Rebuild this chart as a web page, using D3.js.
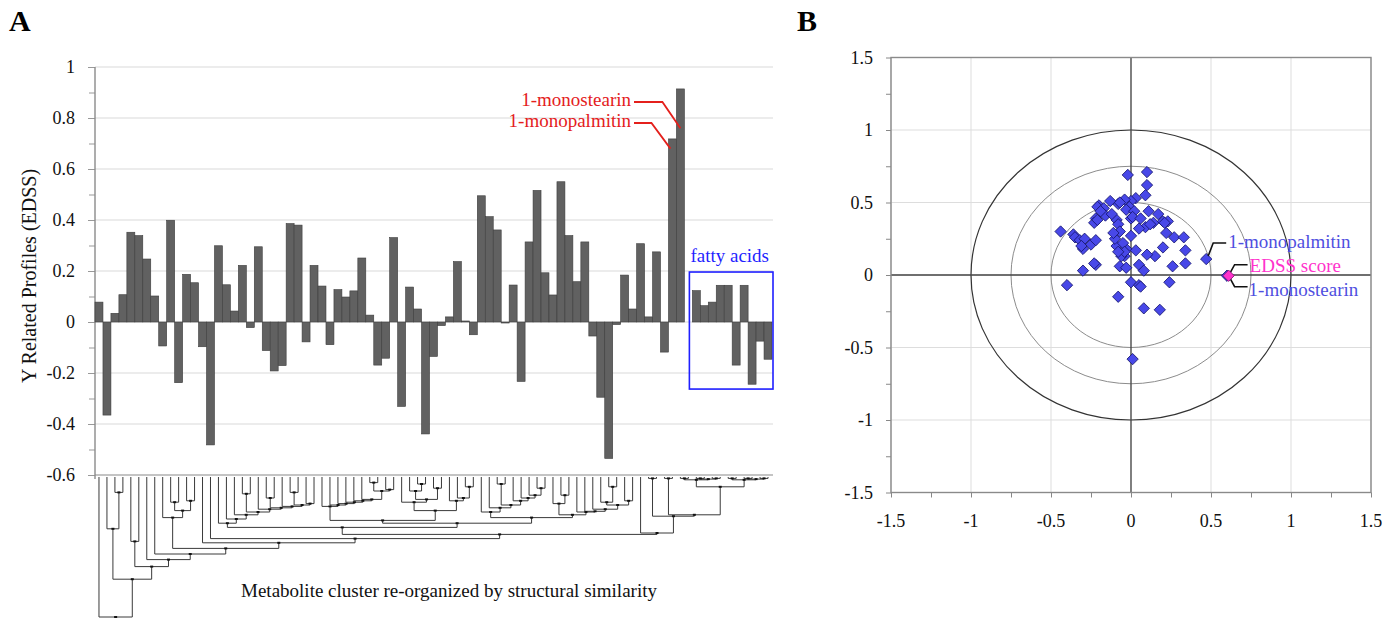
<!DOCTYPE html>
<html>
<head>
<meta charset="utf-8">
<script src="https://cdnjs.cloudflare.com/ajax/libs/d3/7.8.5/d3.min.js"></script>
<style>
  body { margin: 0; background: #fff; }
  text { font-family: "Liberation Serif", "Times New Roman", serif; }
</style>
</head>
<body>
<div id="chart"></div>
<script>
// ---- panel A data: Y related profile per metabolite (in cluster order)
var profile = [
  0.078, -0.365, 0.034, 0.107, 0.352, 0.339, 0.247, 0.102, -0.094, 0.399,
  -0.238, 0.187, 0.154, -0.097, -0.482, 0.299, 0.146, 0.043, 0.222, -0.022,
  0.295, -0.112, -0.192, -0.171, 0.386, 0.380, -0.078, 0.222, 0.141, -0.089,
  0.127, 0.098, 0.122, 0.251, 0.027, -0.169, -0.142, 0.331, -0.331, 0.137,
  0.051, -0.439, -0.135, -0.014, 0.020, 0.237, 0.004, -0.050, 0.495, 0.413,
  0.361, -0.004, 0.145, -0.233, 0.314, 0.516, 0.193, 0.106, 0.550, 0.339,
  0.158, 0.314, -0.055, -0.295, -0.535, -0.010, 0.184, 0.051, 0.307, 0.020,
  0.275, -0.118, 0.718, 0.914, 0.000, 0.123, 0.064, 0.078, 0.144, 0.144,
  -0.169, 0.144, -0.244, -0.075, -0.146
];
var yTicksA = [-0.6, -0.4, -0.2, 0, 0.2, 0.4, 0.6, 0.8, 1];
var fattyAcids = [74, 84];          // bar range boxed in blue
var barLabels = ["1-monostearin", "1-monopalmitin"];
var barLabelIdx = [73, 72];

// dendrogram: node = [height, left, right], leaf = metabolite index
var branchW1 = [0.33, 15, [0.30, 16, [0.27, 17, [0.25, [0.12, 18, 19], [0.23, 20, [0.22, [0.15, 21, 22], [0.21, 23, [0.20, [0.11, 24, 25], [0.19, 26, 27]]]]]]]]];
var branchR1 = [0.21, 28, [0.20, 29, [0.19, 30, [0.18, 31, [0.17, 32, [0.16, 33, [0.10, [0.04, 34, 35], [0.09, 36, 37]]]]]]]];
var branchR2 = [0.24, [0.18, 38, [0.16, [0.10, 39, [0.05, 40, 41]], [0.08, 42, 43]]], [0.17, 44, [0.15, 45, [0.07, 46, 47]]]];
var branchS1 = [0.25, 48, [0.22, 49, [0.20, [0.05, 50, 51], [0.17, 52, [0.15, 53, [0.13, 54, [0.08, 55, 56]]]]]]];
var branchS2 = [0.27, [0.19, 57, [0.13, 58, 59]], [0.25, 60, [0.245, 61, [0.23, 62, [0.20, [0.18, 63, [0.07, 64, 65]], [0.17, 66, 67]]]]]];
var branchT1 = [0.02, [0.01, 73, 74], [0.015, [0.01, 75, 76], [0.01, 77, 78]]];
var branchT2 = [0.02, [0.01, 79, 80], [0.015, [0.01, 81, 82], [0.01, 83, 84]]];
var branchP = [0.40, 68, [0.28, [0.01, 69, 70], [0.27, [0.01, 71, 72], [0.07, branchT1, branchT2]]]];
var branchW = [0.36, branchW1, [0.33, [0.31, branchR1, branchR2], [0.29, branchS1, branchS2]]];
var branchLeft = [0.29, 8, [0.24, [0.18, 9, 10], [0.17, 11, 12]]];
var clusterTree = [1.0, 0,
  [0.73,
    [0.37, 1, [0.11, 2, 3]],
    [0.64, [0.46, 4, 5],
      [0.59, 6,
        [0.55, 7,
          [0.51, branchLeft,
            [0.47, 13,
              [0.44, 14,
                [0.41, branchW, branchP]]]]]]]]];

// ---- panel B data: loadings
var loadX = [-0.02, 0.10, 0.10, 0.09, 0.03, 0.00, -0.04, -0.08, -0.07, -0.13,
  -0.20, -0.21, -0.17, -0.01, -0.03, 0.02, -0.16, -0.22, -0.23, -0.21,
  -0.09, -0.08, 0.00, 0.01, 0.06, 0.11, 0.17, 0.14, 0.09, 0.20,
  0.23, 0.21, 0.22, 0.27, 0.33, 0.34, 0.34, 0.26, 0.20, 0.15,
  0.10, 0.05, 0.08, 0.03, 0.00, -0.03, -0.04, -0.07, -0.03, -0.06,
  -0.09, -0.10, -0.07, -0.05, -0.04, -0.08, -0.44, -0.36, -0.35, -0.32,
  -0.29, -0.25, -0.22, -0.30, -0.31, -0.22, -0.23, -0.30, -0.40, 0.00,
  0.05, 0.06, 0.24, -0.08, 0.08, 0.18, 0.01, 0.47, -0.12, -0.19,
  0.05, -0.11, 0.12, 0.60];
var loadY = [0.69, 0.71, 0.62, 0.55, 0.53, 0.51, 0.52, 0.49, 0.50, 0.51,
  0.48, 0.47, 0.46, 0.47, 0.45, 0.44, 0.41, 0.39, 0.36, 0.38,
  0.38, 0.35, 0.39, 0.40, 0.39, 0.44, 0.42, 0.36, 0.33, 0.37,
  0.37, 0.36, 0.29, 0.26, 0.26, 0.17, 0.08, 0.06, 0.19, 0.13,
  0.14, 0.07, 0.03, 0.17, 0.27, 0.18, 0.13, 0.06, 0.05, 0.13,
  0.20, 0.25, 0.30, 0.22, 0.16, 0.16, 0.30, 0.28, 0.26, 0.24,
  0.25, 0.21, 0.24, 0.18, 0.20, 0.07, 0.08, 0.03, -0.07, -0.05,
  -0.07, -0.08, -0.05, -0.15, -0.23, -0.24, -0.58, 0.11, 0.42, 0.44,
  0.32, 0.29, 0.35, -0.005];
var edssScore = [0.61, -0.005];
var axisTicksB = [-1.5, -1, -0.5, 0, 0.5, 1, 1.5];
var circleRadii = [1, 0.75, 0.5];

var serif = '"Liberation Serif", "Times New Roman", serif';
var fmt = function(d) { return String(+d.toFixed(2)); };

var svg = d3.select("#chart")
    .append("svg")
        .attr("width", 1395)
        .attr("height", 620);

// ===================== panel A =====================
var x = d3.scaleBand()
    .domain(d3.range(profile.length))
    .range([95, 772])
    .padding(0);
var y = d3.scaleLinear()
    .domain([-0.6, 1])
    .range([475, 67]);

svg.selectAll(".gridA")
    .data(yTicksA)
    .enter()
    .append("line")
    .attr("class", "gridA")
    .attr("x1", 95).attr("x2", 773)
    .attr("y1", d => y(d)).attr("y2", d => y(d))
    .attr("stroke", d => d === -0.6 ? "#8a8a8a" : "#dadada")
    .attr("stroke-width", 1.2);

var minor = svg.append("g")
    .attr("transform", "translate(95,0)")
    .call(d3.axisLeft(y).tickValues(d3.range(-6, 11).map(d => d / 10)).tickSize(6).tickFormat(""));
minor.select(".domain").remove();
minor.selectAll("line").attr("stroke", "#999");

var axA = svg.append("g")
    .attr("transform", "translate(95,0)")
    .call(d3.axisLeft(y).tickValues(yTicksA).tickSize(7).tickPadding(13).tickFormat(fmt));
axA.select(".domain").remove();
axA.selectAll("line").attr("stroke", "#999");
axA.selectAll("text")
    .style("font-family", serif)
    .style("font-size", "18px")
    .attr("fill", "#111");

svg.append("line")
    .attr("x1", 95).attr("x2", 95)
    .attr("y1", 67).attr("y2", 479)
    .attr("stroke", "#8a8a8a")
    .attr("stroke-width", 1.4);

svg.selectAll(".bar")
    .data(profile)
    .enter()
    .append("rect")
    .attr("class", "bar")
    .attr("x", (d, i) => x(i))
    .attr("y", d => Math.min(y(d), y(0)))
    .attr("width", x.bandwidth())
    .attr("height", d => Math.abs(y(d) - y(0)))
    .attr("fill", "#616161")
    .attr("stroke", "#3d3d3d")
    .attr("stroke-width", 0.6);

svg.append("text")
    .attr("transform", "translate(36,276) rotate(-90)")
    .attr("text-anchor", "middle")
    .style("font-size", "20px")
    .attr("fill", "#111")
    .text("Y Related Profiles (EDSS)");

// red callouts
var calloutY = [102, 123];
var calloutEndV = [0.76, 0.68];
barLabels.forEach(function(lab, k) {
    var bx = x(barLabelIdx[k]) + x.bandwidth() / 2 - (k === 1 ? 2 : 0);
    svg.append("text")
        .attr("x", 631).attr("y", calloutY[k] + 4)
        .attr("text-anchor", "end")
        .style("font-size", "19px")
        .attr("fill", "#e4201c")
        .text(lab);
    svg.append("path")
        .attr("d", "M634," + calloutY[k] + "H" + (bx - 18 + k * -1) + "L" + bx + "," + y(calloutEndV[k]))
        .attr("fill", "none")
        .attr("stroke", "#e4201c")
        .attr("stroke-width", 1.8);
});

// fatty acids box
svg.append("rect")
    .attr("x", x(fattyAcids[0]) + 5)
    .attr("y", y(0.196))
    .attr("width", x(fattyAcids[1]) + x.bandwidth() + 1 - x(fattyAcids[0]) - 5)
    .attr("height", y(-0.263) - y(0.196))
    .attr("fill", "none")
    .attr("stroke", "#1f1fff")
    .attr("stroke-width", 1.6);
svg.append("text")
    .attr("x", x(fattyAcids[0]) + 6).attr("y", y(0.196) - 10)
    .style("font-size", "19px")
    .attr("fill", "#1f1fff")
    .text("fatty acids");

// dendrogram
var h = d3.scaleLinear().domain([0, 1]).range([477, 617]);
var root = d3.hierarchy(clusterTree, d => Array.isArray(d) ? d.slice(1) : null);
root.eachAfter(function(n) {
    if (n.children) {
        n.px = (n.children[0].px + n.children[1].px) / 2;
        n.py = h(n.data[0]);
    } else {
        n.px = x(n.data) + x.bandwidth() / 2;
        n.py = h(0);
    }
});
svg.append("g").selectAll("path")
    .data(root.descendants().filter(n => n.parent))
    .enter()
    .append("path")
    .attr("d", n => "M" + n.px + "," + n.py + "V" + n.parent.py + "H" + n.parent.px)
    .attr("fill", "none")
    .attr("stroke", "#3a3a3a")
    .attr("stroke-width", 1);
svg.append("g").selectAll("rect")
    .data(root.descendants().filter(n => n.children))
    .enter()
    .append("rect")
    .attr("x", n => n.px - 1.5)
    .attr("y", n => n.py - 1)
    .attr("width", 3).attr("height", 2)
    .attr("fill", "#111");

svg.append("text")
    .attr("x", 449).attr("y", 597)
    .attr("text-anchor", "middle")
    .style("font-size", "19px")
    .attr("fill", "#111")
    .text("Metabolite cluster re-organized by structural similarity");

// ===================== panel B =====================
var sx = d3.scaleLinear().domain([-1.5, 1.5]).range([891, 1371]);
var sy = d3.scaleLinear().domain([-1.5, 1.5]).range([492.5, 57.5]);

svg.selectAll(".gvx")
    .data(axisTicksB)
    .enter()
    .append("line")
    .attr("class", "gvx")
    .attr("x1", d => sx(d)).attr("x2", d => sx(d))
    .attr("y1", sy(1.5)).attr("y2", sy(-1.5))
    .attr("stroke", "#dddddd");
svg.selectAll(".gvy")
    .data(axisTicksB)
    .enter()
    .append("line")
    .attr("class", "gvy")
    .attr("x1", sx(-1.5)).attr("x2", sx(1.5))
    .attr("y1", d => sy(d)).attr("y2", d => sy(d))
    .attr("stroke", "#dddddd");

svg.selectAll(".ring")
    .data(circleRadii)
    .enter()
    .append("ellipse")
    .attr("class", "ring")
    .attr("cx", sx(0)).attr("cy", sy(0))
    .attr("rx", d => sx(d) - sx(0))
    .attr("ry", d => sy(0) - sy(d))
    .attr("fill", "none")
    .attr("stroke", d => d === 1 ? "#333" : "#8c8c8c")
    .attr("stroke-width", d => d === 1 ? 1.2 : 1);

svg.append("line")
    .attr("x1", sx(0)).attr("x2", sx(0)).attr("y1", sy(1.5)).attr("y2", sy(-1.5))
    .attr("stroke", "#444").attr("stroke-width", 1.3);
svg.append("line")
    .attr("x1", sx(-1.5)).attr("x2", sx(1.5)).attr("y1", sy(0)).attr("y2", sy(0))
    .attr("stroke", "#444").attr("stroke-width", 1.3);

svg.append("rect")
    .attr("x", sx(-1.5)).attr("y", sy(1.5))
    .attr("width", sx(1.5) - sx(-1.5)).attr("height", sy(-1.5) - sy(1.5))
    .attr("fill", "none")
    .attr("stroke", "#8a8a8a")
    .attr("stroke-width", 1.4);

var quarter = d3.range(-6, 7).map(d => d / 4);
var axBy = svg.append("g")
    .attr("transform", "translate(" + sx(-1.5) + ",0)")
    .call(d3.axisLeft(sy).tickValues(quarter).tickSize(5).tickFormat(""));
axBy.select(".domain").remove();
axBy.selectAll("line").attr("stroke", "#888");
var axBx = svg.append("g")
    .attr("transform", "translate(0," + sy(-1.5) + ")")
    .call(d3.axisBottom(sx).tickValues(quarter).tickSize(5).tickFormat(""));
axBx.select(".domain").remove();
axBx.selectAll("line").attr("stroke", "#888");

svg.selectAll(".lbBy")
    .data(axisTicksB)
    .enter()
    .append("text")
    .attr("class", "lbBy")
    .attr("x", 873).attr("y", d => sy(d))
    .attr("dy", "0.35em")
    .attr("text-anchor", "end")
    .style("font-size", "18px")
    .attr("fill", "#111")
    .text(fmt);
svg.selectAll(".lbBx")
    .data(axisTicksB)
    .enter()
    .append("text")
    .attr("class", "lbBx")
    .attr("x", d => sx(d)).attr("y", 527)
    .attr("text-anchor", "middle")
    .style("font-size", "18px")
    .attr("fill", "#111")
    .text(fmt);

var diamond = d3.symbol().type(d3.symbolSquare).size(64);
svg.append("g").selectAll("path")
    .data(loadX)
    .enter()
    .append("path")
    .attr("d", diamond)
    .attr("transform", (d, i) => "translate(" + sx(d) + "," + sy(loadY[i]) + ") rotate(45)")
    .attr("fill", "#4848e8")
    .attr("stroke", "#15156e")
    .attr("stroke-width", 0.8);

// leader lines
var ex = sx(edssScore[0]), ey = sy(edssScore[1]);
var px = sx(0.47), py = sy(0.11);
svg.append("path")
    .attr("d", "M" + (px + 2) + "," + (py - 3) + "L" + (px + 7) + "," + (py - 16) + "H" + (px + 20))
    .attr("fill", "none").attr("stroke", "#111").attr("stroke-width", 1.6);
svg.append("path")
    .attr("d", "M" + ex + "," + ey + "L" + (ex + 6) + "," + (ey - 11) + "H" + (ex + 19))
    .attr("fill", "none").attr("stroke", "#111").attr("stroke-width", 1.6);
svg.append("path")
    .attr("d", "M" + ex + "," + ey + "L" + (ex + 6) + "," + (ey + 11) + "H" + (ex + 19))
    .attr("fill", "none").attr("stroke", "#111").attr("stroke-width", 1.6);

svg.append("path")
    .attr("d", d3.symbol().type(d3.symbolSquare).size(64))
    .attr("transform", "translate(" + ex + "," + ey + ") rotate(45)")
    .attr("fill", "#ff33cc")
    .attr("stroke", "#7a1070")
    .attr("stroke-width", 0.8);

svg.append("text")
    .attr("x", px + 22).attr("y", py - 11)
    .style("font-size", "19px").attr("fill", "#4f4fe0")
    .text("1-monopalmitin");
svg.append("text")
    .attr("x", ex + 21).attr("y", ey - 4)
    .style("font-size", "19px").attr("fill", "#ff33cc")
    .text("EDSS score");
svg.append("text")
    .attr("x", ex + 20).attr("y", ey + 20)
    .style("font-size", "19px").attr("fill", "#4f4fe0")
    .text("1-monostearin");

// panel letters
svg.append("text").attr("x", 9).attr("y", 31)
    .style("font-size", "30px").style("font-weight", "bold").text("A");
svg.append("text").attr("x", 797).attr("y", 31)
    .style("font-size", "30px").style("font-weight", "bold").text("B");
</script>
</body>
</html>
